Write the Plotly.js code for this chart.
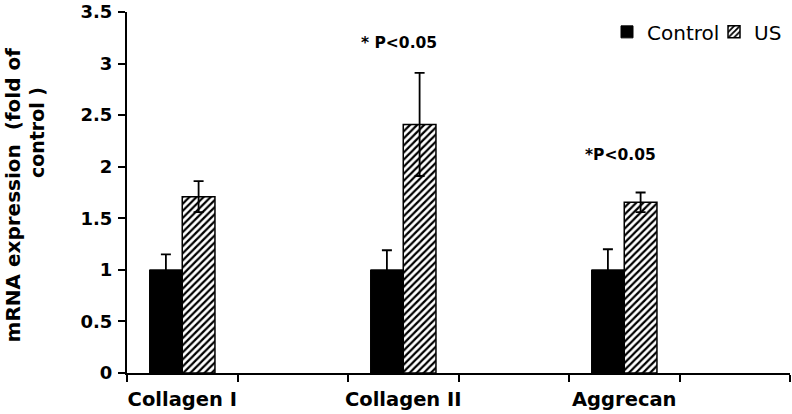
<!DOCTYPE html>
<html>
<head>
<meta charset="utf-8">
<script src="https://cdn.plot.ly/plotly-3.0.1.min.js"></script>
<style>html,body{margin:0;padding:0;background:#fff;}#chart{width:792px;height:414px;}</style>
</head>
<body>
<div id="chart"></div>
<script>
// Data
const categories = ['Collagen I', 'Collagen II', 'Aggrecan'];
const axisSlots = ['Collagen I', ' ', 'Collagen II', '  ', 'Aggrecan', '   '];
const controlValues = [1.0, 1.0, 1.0];
const controlErrors = [0.15, 0.19, 0.2];
const usValues = [1.71, 2.41, 1.655];
const usErrors = [0.15, 0.5, 0.095];
const seriesNames = ['Control', 'US'];
const sigLabels = ['* P<0.05', '*P<0.05'];
const sigCategories = ['Collagen II', 'Aggrecan'];
const sigHeights = [3.2, 2.11];
const yTitleLines = ['mRNA expression  (fold of', 'control )'];

const FONT = '"DejaVu Sans", Arial, sans-serif';

const traces = [
  {
    type: 'bar', name: seriesNames[0], x: categories, y: controlValues,
    marker: {color: '#000', line: {color: '#000', width: 1}},
    error_y: {type: 'data', array: controlErrors, visible: true, color: '#000', thickness: 1.8, width: 5}
  },
  {
    type: 'bar', name: seriesNames[1], x: categories, y: usValues,
    marker: {color: '#fff', line: {color: '#000', width: 1.5},
      pattern: {shape: '/', fgcolor: '#000', bgcolor: '#fff', size: 5, solidity: 0.45}},
    error_y: {type: 'data', array: usErrors, visible: true, color: '#000', thickness: 1.8, width: 5}
  }
];

const annotations = sigLabels.map((t, i) => ({
  text: t, x: sigCategories[i], y: sigHeights[i], xref: 'x', yref: 'y',
  xshift: -4, showarrow: false, xanchor: 'center', yanchor: 'middle',
  font: {family: FONT, size: 15.5, color: '#000', weight: 'bold'}
}));
annotations.push({
  text: yTitleLines[0], xref: 'paper', yref: 'paper', x: -0.1725, y: 0.4936,
  textangle: -90, showarrow: false, xanchor: 'center', yanchor: 'middle',
  font: {family: FONT, size: 20, color: '#000', weight: 'bold'}
});
annotations.push({
  text: yTitleLines[1], xref: 'paper', yref: 'paper', x: -0.136, y: 0.6668,
  textangle: -90, showarrow: false, xanchor: 'center', yanchor: 'middle',
  font: {family: FONT, size: 19, color: '#000', weight: 'bold'}
});

const layout = {
  width: 792, height: 414,
  margin: {l: 127.3, r: 2, t: 11.7, b: 41.3, autoexpand: false},
  paper_bgcolor: '#fff', plot_bgcolor: '#fff',
  barmode: 'group', bargap: 0.408, bargroupgap: 0,
  showlegend: true,
  legend: {
    orientation: 'h', x: 0.724, y: 0.999, xanchor: 'left', yanchor: 'top',
    font: {family: FONT, size: 20, color: '#000'}, itemwidth: 30, entrywidth: 62,
    bgcolor: 'rgba(0,0,0,0)', traceorder: 'normal'
  },
  xaxis: {
    type: 'category', categoryorder: 'array', categoryarray: axisSlots,
    range: [-0.5, 5.5], tickson: 'boundaries', ticks: 'outside', ticklen: 7, tickwidth: 2, tickcolor: '#000',
    tickangle: 0, automargin: false, ticklabelstandoff: 8,
    showline: true, linecolor: '#000', linewidth: 2, showgrid: false, zeroline: false,
    tickfont: {family: FONT, size: 19.5, color: '#000', weight: 'bold'}, fixedrange: true
  },
  yaxis: {
    range: [0, 3.5], dtick: 0.5, tick0: 0, ticks: 'outside', ticklen: 7, tickwidth: 2, tickcolor: '#000',
    automargin: false,
    showline: true, linecolor: '#000', linewidth: 2, showgrid: false, zeroline: false,
    tickfont: {family: FONT, size: 18, color: '#000', weight: 'bold'}, ticklabelstandoff: 2, fixedrange: true
  },
  annotations: annotations
};

Plotly.newPlot('chart', traces, layout, {displayModeBar: false, staticPlot: true});
</script>
</body>
</html>
